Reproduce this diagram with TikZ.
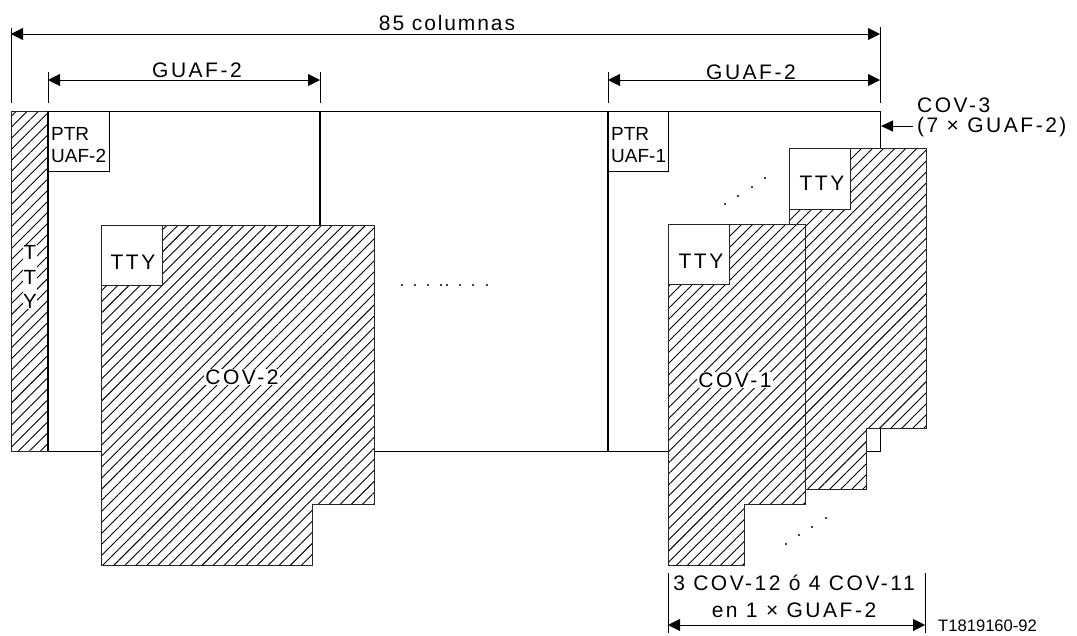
\documentclass[tikz,border=0pt]{standalone}
\usepackage{fontspec}
\setmainfont{Liberation Sans}
\newfontfamily\spcfont[LetterSpace=12]{Liberation Sans}
\newfontfamily\spcfontb[LetterSpace=9]{Liberation Sans}
\usetikzlibrary{arrows.meta,patterns.meta}
\begin{document}
\begin{tikzpicture}[x=1pt,y=-1pt,
  outline/.style={line width=1pt, draw=black},
  heavy/.style={line width=2pt, draw=black},
  hatch/.style={preaction={fill=white}, pattern={Lines[angle=45,distance=7.8pt,line width=0.9pt]}, draw=black!85, line width=1pt},
  whitebox/.style={fill=white, draw=black!85, line width=1pt},
  dim/.style={line width=0.9pt, {Triangle[length=12pt,width=12pt]}-{Triangle[length=12pt,width=12pt]}},
  oneway/.style={line width=0.9pt, -{Triangle[length=12pt,width=11pt]}},
  ext/.style={line width=0.7pt},
  lbl/.style={font=\spcfont\fontsize{21}{24}\selectfont, inner sep=1pt},
  plainlbl/.style={font=\fontsize{19}{22}\selectfont, inner sep=1pt},
  tinylbl/.style={font=\fontsize{16.6}{20}\selectfont, inner sep=0pt},
  dotmark/.style={fill=black, circle, inner sep=0pt, minimum size=2.4pt}
]
\useasboundingbox (0,0) rectangle (1077,635);

% main frame
\draw[outline] (11,111) rectangle (880,451);
\draw[hatch] (11,111) rectangle (48,451);
\draw[heavy] (48,111) -- (48,451);
\draw[outline] (48,111) rectangle (109,171);
\draw[heavy] (320,111) -- (320,225);
\draw[heavy] (608,111) -- (608,451);
\draw[outline] (608,111) rectangle (668,171);

% back COV shape (COV-3 stack)
\draw[hatch] (789,148) -- (926,148) -- (926,428) -- (866,428) -- (866,489) -- (789,489) -- cycle;
\draw[whitebox] (789,148) rectangle (850,209);
% COV-1
\draw[hatch] (668,224) -- (805,224) -- (805,504) -- (744,504) -- (744,565) -- (668,565) -- cycle;
\draw[whitebox] (668,224) rectangle (729,284);
% COV-2
\draw[hatch] (101,225) -- (374,225) -- (374,504) -- (312,504) -- (312,565) -- (101,565) -- cycle;
\draw[whitebox] (101,225) rectangle (162,285);

% labels inside
\node[fill=white, align=center, inner sep=0.5pt, font=\fontsize{20.5}{24.5}\selectfont] (ttyv) at (30,277) {T\\T\\Y};
\node[plainlbl, anchor=west, align=left] (ptr2) at (50,145) {PTR\\UAF-2};
\node[plainlbl, anchor=west, align=left] (ptr1) at (610,145) {PTR\\UAF-1};
\node[lbl] (tty2) at (133,262) {TTY};
\node[lbl, fill=white] (cov2) at (242,377) {COV-2};
\node[lbl] (tty1) at (701,261) {TTY};
\node[lbl, fill=white] (cov1) at (735,380) {COV-1};
\node[lbl] (tty3) at (822,183) {TTY};

% dots
\foreach \xx [count=\i] in {402,415,428,441,447,460,473,487}
  \node[dotmark] (md\i) at (\xx,285) {};
\foreach \xx/\yy [count=\i] in {725/204,738/196,752/187,765/178}
  \node[dotmark] (ud\i) at (\xx,\yy) {};
\foreach \xx/\yy [count=\i] in {786/544,799/535,812/527,826/518}
  \node[dotmark] (ld\i) at (\xx,\yy) {};

% top dimension
\coordinate (e0t) at (11,28);  \coordinate (e0b) at (11,103);
\coordinate (e4t) at (880,27); \coordinate (e4b) at (880,103);
\coordinate (e1t) at (48,72);  \coordinate (e1b) at (48,103);
\coordinate (e2t) at (320,72); \coordinate (e2b) at (320,103);
\coordinate (e3t) at (608,72); \coordinate (e3b) at (608,103);
\draw[ext] (e0t) -- (e0b);
\draw[ext] (e4t) -- (e4b);
\draw[ext] (e1t) -- (e1b);
\draw[ext] (e2t) -- (e2b);
\draw[ext] (e3t) -- (e3b);
\coordinate (a0) at (11,34); \coordinate (a1) at (880,34);
\draw[dim] (a0) -- (a1);
\node[lbl, font=\spcfontb\fontsize{21}{24}\selectfont] (cols) at (447,23) {85 columnas};
\coordinate (g1a) at (48,80); \coordinate (g1b) at (320,80);
\draw[dim] (g1a) -- (g1b);
\node[lbl] (guaf1) at (197,70) {GUAF-2};
\coordinate (g2a) at (608,80); \coordinate (g2b) at (880,80);
\draw[dim] (g2a) -- (g2b);
\node[lbl] (guaf2) at (751,72) {GUAF-2};

% COV-3 label
\node[lbl, anchor=west, align=left, font=\spcfont\fontsize{21}{20}\selectfont] (cov3) at (916,117) {COV-3\\(7 × GUAF-2)};
\coordinate (c3s) at (913,126); \coordinate (c3e) at (881,126);
\draw[oneway] (c3s) -- (c3e);

% bottom dimension
\coordinate (b1t) at (668,573); \coordinate (b1b) at (668,633);
\coordinate (b2t) at (925,573); \coordinate (b2b) at (925,633);
\draw[ext] (b1t) -- (b1b);
\draw[ext] (b2t) -- (b2b);
\coordinate (ba) at (668,625); \coordinate (bb) at (925,625);
\draw[dim] (ba) -- (bb);
\node[lbl] (bl1) at (794,583) {3 COV-12 ó 4 COV-11};
\node[lbl] (bl2) at (794,610) {en 1 × GUAF-2};
\node[tinylbl, anchor=west] (code) at (938,626) {T1819160-92};
\end{tikzpicture}
\end{document}
